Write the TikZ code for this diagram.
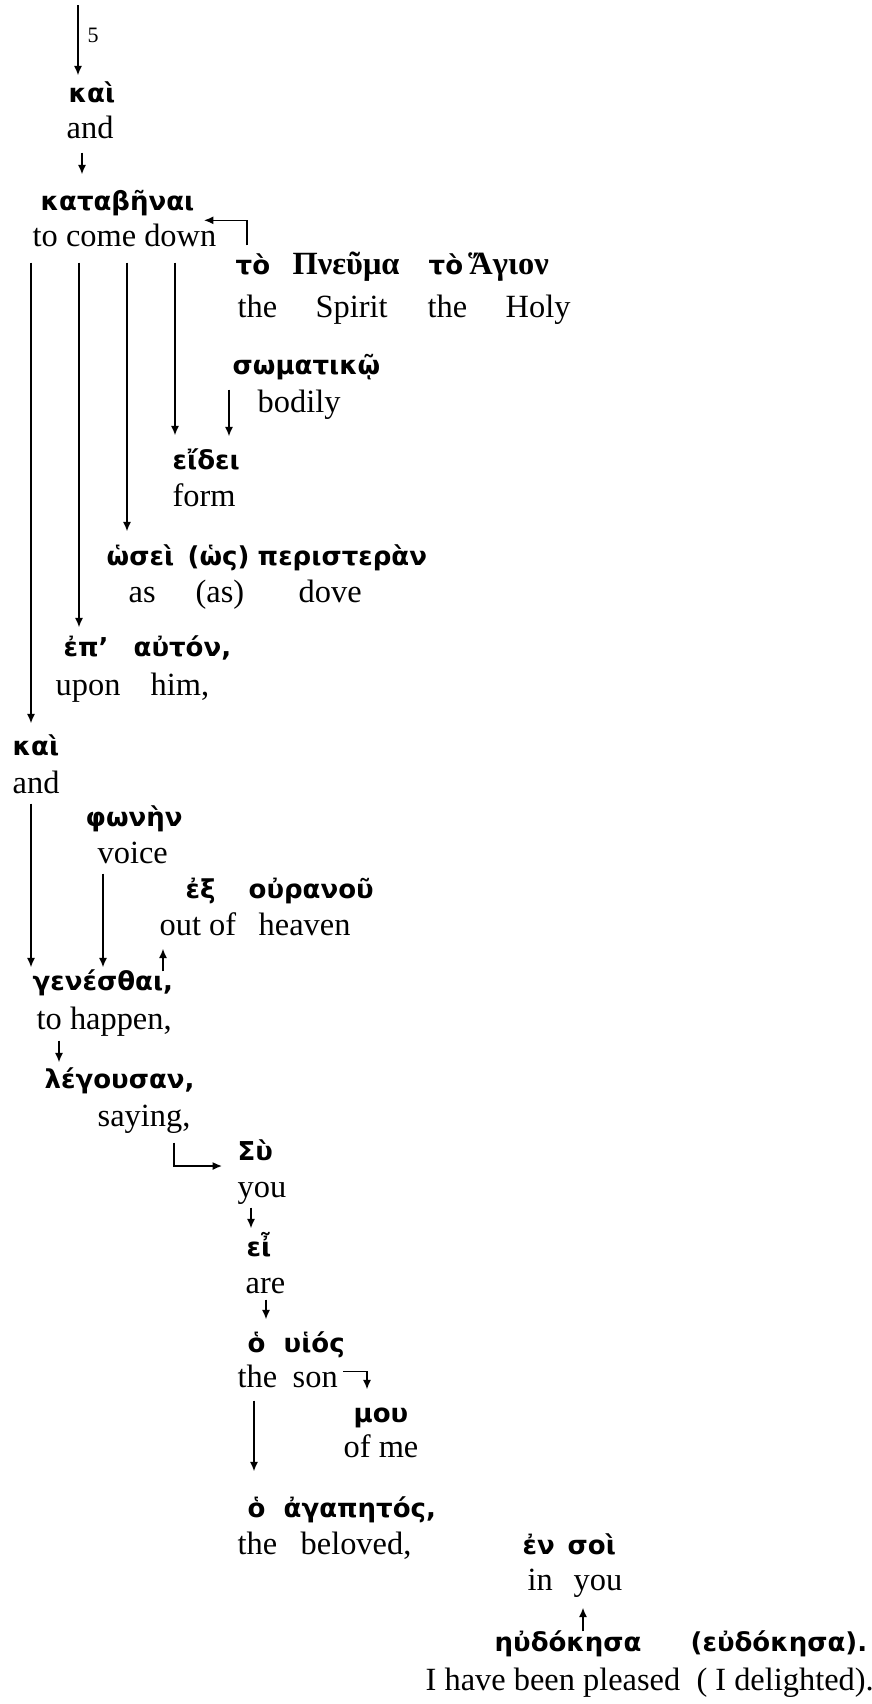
\documentclass[tikz,border=0pt]{standalone}
\usepackage{fontspec}
\setmainfont{Liberation Serif}
\newfontfamily\grk{DejaVu Sans}
\newfontfamily\grkserif{Liberation Serif}
\usetikzlibrary{arrows.meta}

\begin{document}
\begin{tikzpicture}[x=0.5pt, y=-0.5pt, line width=0.7pt]

\tikzstyle{gk}=[anchor=base west, inner sep=0pt, text height=11pt, text depth=0pt, font=\grk\bfseries\fontsize{13}{16}\selectfont]
\tikzstyle{gks}=[gk, font=\grkserif\bfseries\fontsize{16.2}{19}\selectfont]
\tikzstyle{en}=[anchor=base west, inner sep=0pt, text height=11pt, text depth=3pt, font=\fontsize{16.2}{19}\selectfont]
\tikzstyle{verse}=[en, font=\fontsize{11}{13}\selectfont]
\tikzstyle{arrow}=[-{Latex[length=4.7pt,width=4pt]}]

\useasboundingbox (0,0) rectangle (872,1704);

% greek words with the english gloss under them
\node (kaiA) [gk] at (68,102) {καὶ};
\node (andA) [en] at (66,138) {and};
\node (katab) [gk] at (40,210) {καταβῆναι};
\node (come) [en] at (32,246) {to come down};

\node (toA) [gk] at (235,274) {τὸ};
\node (pneuma) [gks] at (292,274) {Πνεῦμα};
\node (toB) [gk] at (428,274) {τὸ};
\node (hagion) [gks] at (468,274) {Ἅγιον};
\node (theA) [en] at (237,317) {the};
\node (spirit) [en] at (315,317) {Spirit};
\node (theB) [en] at (427,317) {the};
\node (holy) [en] at (505,317) {Holy};

\node (somat) [gk] at (232,374) {σωματικῷ};
\node (bodily) [en] at (257,412) {bodily};
\node (eidei) [gk] at (172,469) {εἴδει};
\node (form) [en] at (172,506) {form};

\node (hosei) [gk] at (106,565) {ὡσεὶ};
\node (hos) [gk] at (187,565) {(ὡς)};
\node (perist) [gk] at (257,565) {περιστερὰν};
\node (as) [en] at (128,602) {as};
\node (asB) [en] at (195,602) {(as)};
\node (dove) [en] at (298,602) {dove};

\node (ep) [gk] at (63,656) {ἐπ’};
\node (auton) [gk] at (133,656) {αὐτόν,};
\node (upon) [en] at (55,695) {upon};
\node (him) [en] at (150,695) {him,};

\node (kaiB) [gk] at (12,755) {καὶ};
\node (andB) [en] at (12,793) {and};
\node (phonen) [gk] at (85,826) {φωνὴν};
\node (voice) [en] at (97,863) {voice};
\node (ex) [gk] at (185,898) {ἐξ};
\node (ouranou) [gk] at (248,898) {οὐρανοῦ};
\node (outof) [en] at (159,935) {out of};
\node (heaven) [en] at (258,935) {heaven};

\node (genes) [gk] at (32,990) {γενέσθαι,};
\node (happen) [en] at (36,1029) {to happen,};
\node (legous) [gk] at (44,1088) {λέγουσαν,};
\node (saying) [en] at (97,1126) {saying,};

\node (su) [gk] at (237,1160) {Σὺ};
\node (you) [en] at (237,1197) {you};
\node (ei) [gk] at (246,1256) {εἶ};
\node (are) [en] at (245,1293) {are};
\node (hoA) [gk] at (247,1352) {ὁ};
\node (huios) [gk] at (283,1352) {υἱός};
\node (theC) [en] at (237,1387) {the};
\node (son) [en] at (292,1387) {son};
\node (mou) [gk] at (353,1422) {μου};
\node (ofme) [en] at (343,1457) {of me};
\node (hoB) [gk] at (247,1517) {ὁ};
\node (agap) [gk] at (283,1517) {ἀγαπητός,};
\node (theD) [en] at (237,1554) {the};
\node (beloved) [en] at (300,1554) {beloved,};

\node (en) [gk] at (522,1554) {ἐν};
\node (soi) [gk] at (567,1554) {σοὶ};
\node (in) [en] at (527,1590) {in};
\node (youB) [en] at (573,1590) {you};
\node (eudok) [gk] at (494,1651) {ηὐδόκησα};
\node (eudokB) [gk] at (690,1651) {(εὐδόκησα).};
\node (pleased) [en] at (425,1690) {I have been pleased\ \ ( I delighted).};

% columns of the connectors
\coordinate (top) at (78,5);
\coordinate (xa) at (82,0);
\coordinate (xb) at (247,0);
\coordinate (c1) at (31,0);
\coordinate (c2) at (79,0);
\coordinate (c3) at (127,0);
\coordinate (c4) at (175,0);
\coordinate (xs) at (229,0);
\coordinate (xv) at (103,0);
\coordinate (xe) at (163,0);
\coordinate (xh) at (59,0);
\coordinate (xc) at (174,0);
\coordinate (xy) at (251,0);
\coordinate (xr) at (266,0);
\coordinate (xd) at (367,0);
\coordinate (xt) at (254,0);
\coordinate (xf) at (583,0);

\draw [arrow, shorten >=2pt] (top) -- (top |- kaiA.north);
\node (five) [verse] at (87,42) {5};
\draw [arrow, shorten <=4pt, shorten >=6.5pt] (xa |- andA.south) -- (xa |- katab.north);
\draw [arrow] (toA.north -| xb) ++(0,-6) |- ([xshift=-6.5pt,yshift=1.5pt]come.north east);

\draw [arrow, shorten <=5pt, shorten >=4.5pt] (come.south -| c1) -- (c1 |- kaiB.north);
\draw [arrow, shorten <=5pt, shorten >=3pt] (come.south -| c2) -- (c2 |- ep.north);
\draw [arrow, shorten <=5pt, shorten >=5.5pt] (come.south -| c3) -- (c3 |- hosei.north);
\draw [arrow, shorten <=5pt, shorten >=5.5pt] (come.south -| c4) -- (c4 |- eidei.north);
\draw [arrow, shorten <=7.5pt, shorten >=5pt] (somat.south -| xs) -- (xs |- eidei.north);

\draw [arrow, shorten <=2pt] (andB.south -| c1) -- (c1 |- genes.north);
\draw [arrow, shorten <=2pt] (voice.south -| xv) -- (xv |- genes.north);
\draw [arrow, shorten >=3.5pt] (genes.north -| xe) ++(0,4) -- (xe |- outof.south);
\draw [arrow, shorten <=2.5pt, shorten >=1.5pt] (happen.south -| xh) -- (xh |- legous.north);
\draw [arrow] (saying.south -| xc) ++(0,10) |- ([xshift=-7.5pt,yshift=-3pt]su.base west);

\draw [arrow, shorten <=2pt, shorten >=2.5pt] (you.south -| xy) -- (xy |- ei.north);
\draw [arrow, shorten >=5pt] (are.south -| xr) -- (xr |- hoA.north);
\draw [arrow, shorten >=5pt] ([xshift=2.5pt,yshift=-3.5pt]son.north east) -| (xd |- mou.north);
\draw [arrow, shorten <=3.5pt, shorten >=11.5pt] (theC.south -| xt) -- (xt |- hoB.north);
\draw [arrow, shorten >=5.5pt] (eudok.north -| xf) ++(0,3) -- (xf |- youB.south);

\end{tikzpicture}
\end{document}
